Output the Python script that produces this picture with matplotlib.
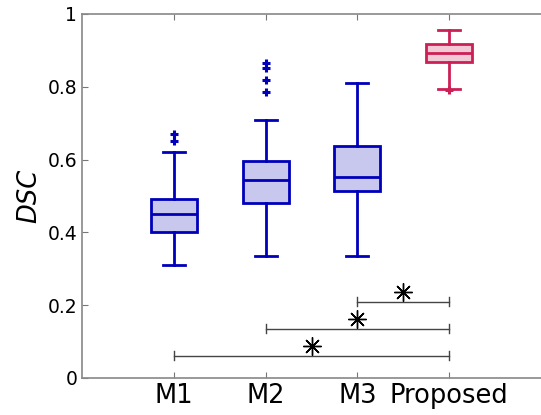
import matplotlib
matplotlib.use('Agg')
import matplotlib.pyplot as plt

# Box statistics
labels = ['M1', 'M2', 'M3', 'Proposed']
whislo = [0.310, 0.335, 0.335, 0.794]
q1 = [0.401, 0.481, 0.514, 0.868]
med = [0.451, 0.544, 0.552, 0.894]
q3 = [0.492, 0.596, 0.637, 0.918]
whishi = [0.621, 0.709, 0.810, 0.956]
fliers = [[0.651, 0.670], [0.786, 0.819, 0.852, 0.865], [], [0.790]]

# significance brackets (from, to, height) and asterisk positions
brk_from = [3, 2, 1]
brk_to = [4, 4, 4]
brk_y = [0.21, 0.135, 0.061]
star_x = [3.5, 3.0, 2.5]
star_y = [0.236, 0.162, 0.089]

blue, blue_face = '#0000bb', '#c8c8ee'
red, red_face = '#cc1f55', '#f2c9d6'

fig = plt.figure(figsize=(5.41, 4.15), dpi=100)
ax = fig.add_axes([0.1516, 0.0892, 0.8484, 0.8771])

stats = []
for i in range(4):
    stats.append(dict(label=labels[i], whislo=whislo[i], q1=q1[i], med=med[i],
                      q3=q3[i], whishi=whishi[i], fliers=fliers[i]))

for i, st in enumerate(stats):
    c, fc = (red, red_face) if i == 3 else (blue, blue_face)
    ax.bxp([st], positions=[i + 1], widths=0.5, patch_artist=True,
           showfliers=True, capwidths=0.24,
           boxprops=dict(facecolor=fc, edgecolor=c, linewidth=2),
           medianprops=dict(color=c, linewidth=2),
           whiskerprops=dict(color=c, linewidth=2, linestyle='-'),
           capprops=dict(color=c, linewidth=2),
           flierprops=dict(marker='+', markeredgecolor=c, markersize=5.5, markeredgewidth=2.2))

for a, b, y in zip(brk_from, brk_to, brk_y):
    ax.plot([a, b], [y, y], color='#444444', lw=1)
    ax.plot([a, a], [y - 0.012, y + 0.012], color='#444444', lw=1)
    ax.plot([b, b], [y - 0.012, y + 0.012], color='#444444', lw=1)
ax.plot(star_x, star_y, linestyle='none', marker=(8, 2, 0), markersize=13,
        color='black', markeredgewidth=1.0)

ax.set_xlim(0, 5)
ax.set_ylim(0, 1)
ax.set_xticks([1, 2, 3, 4])
ax.set_xticklabels(labels, fontsize=18.5)
ax.set_yticks([0, 0.2, 0.4, 0.6, 0.8, 1])
ax.set_yticklabels(['0', '0.2', '0.4', '0.6', '0.8', '1'], fontsize=13.5)
ax.set_ylabel('DSC', fontsize=18.5, style='italic')
ax.tick_params(direction='in', color='#777777', length=4, top=True)
for s in ['left', 'bottom', 'top']:
    ax.spines[s].set_color('#888888')
    ax.spines[s].set_linewidth(1.2)
ax.spines['right'].set_visible(False)

fig.savefig('out.png', dpi=100)
